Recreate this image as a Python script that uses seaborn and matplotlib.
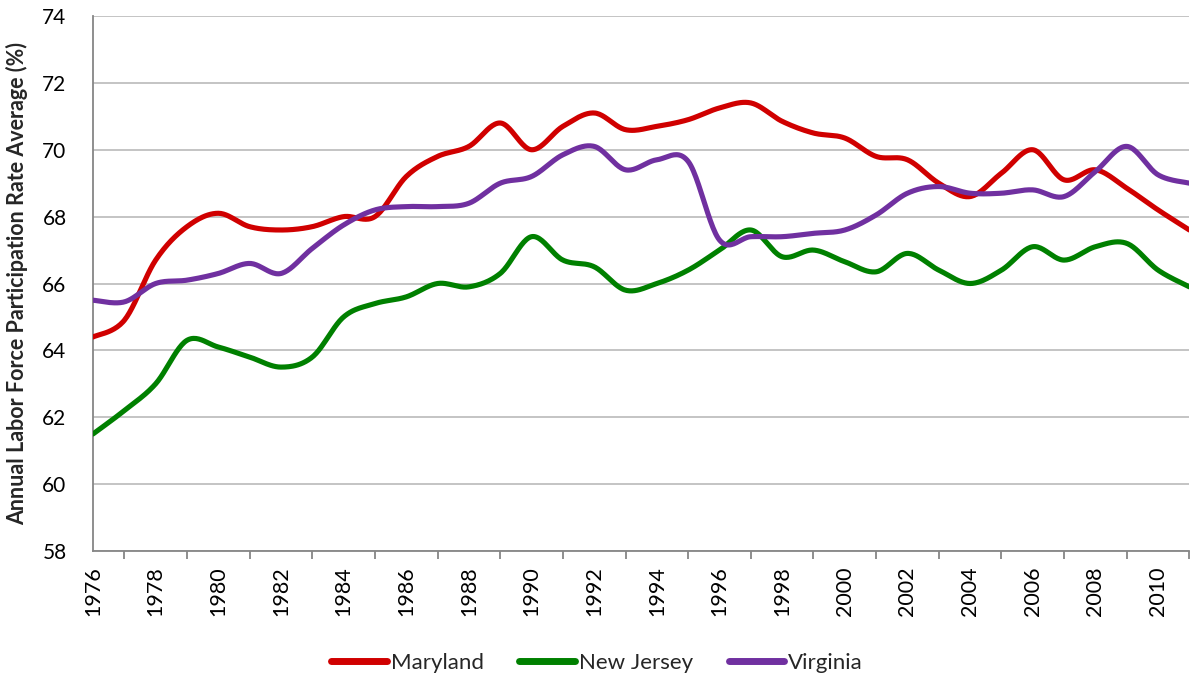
import numpy as np
import pandas as pd
import matplotlib
matplotlib.use("Agg")
import matplotlib.pyplot as plt
from matplotlib.ticker import MultipleLocator
import seaborn as sns

years = list(range(1976, 2012))

maryland = [64.4, 64.9, 66.7, 67.7, 68.1, 67.7, 67.6, 67.7, 68.0, 68.0,
            69.2, 69.8, 70.1, 70.8, 70.0, 70.7, 71.1, 70.6, 70.7, 70.9,
            71.25, 71.4, 70.85, 70.5, 70.35, 69.8, 69.7, 69.0, 68.6, 69.3,
            70.0, 69.1, 69.4, 68.85, 68.2, 67.6]
new_jersey = [61.5, 62.2, 63.0, 64.3, 64.1, 63.8, 63.5, 63.8, 65.0, 65.4,
              65.6, 66.0, 65.9, 66.3, 67.4, 66.7, 66.5, 65.8, 66.0, 66.4,
              67.0, 67.6, 66.8, 67.0, 66.65, 66.35, 66.9, 66.4, 66.0, 66.4,
              67.1, 66.7, 67.1, 67.2, 66.4, 65.9]
virginia = [65.5, 65.45, 66.0, 66.1, 66.3, 66.6, 66.3, 67.05, 67.75, 68.2,
            68.3, 68.3, 68.4, 69.0, 69.2, 69.85, 70.1, 69.4, 69.7, 69.65,
            67.3, 67.4, 67.4, 67.5, 67.6, 68.05, 68.7, 68.9, 68.7, 68.7,
            68.8, 68.6, 69.35, 70.1, 69.25, 69.0]

states = ["Maryland", "New Jersey", "Virginia"]
colors = {"Maryland": "#D00000", "New Jersey": "#008000", "Virginia": "#7030A0"}
series = {"Maryland": maryland, "New Jersey": new_jersey, "Virginia": virginia}


def smooth_path(x, y, steps=24):
    """Excel-style smoothed line: cubic Bezier segments with Catmull-Rom control points."""
    x = np.asarray(x, float)
    y = np.asarray(y, float)
    n = len(x)
    px, py = [], []
    t = np.linspace(0, 1, steps, endpoint=False)
    for i in range(n - 1):
        i0 = max(i - 1, 0)
        i3 = min(i + 2, n - 1)
        p0 = np.array([x[i], y[i]])
        p3 = np.array([x[i + 1], y[i + 1]])
        c1 = p0 + (p3 - np.array([x[i0], y[i0]])) / 6.0
        c2 = p3 - (np.array([x[i3], y[i3]]) - p0) / 6.0
        b = ((1 - t) ** 3)[:, None] * p0 + (3 * (1 - t) ** 2 * t)[:, None] * c1 \
            + (3 * (1 - t) * t ** 2)[:, None] * c2 + (t ** 3)[:, None] * p3
        px.extend(b[:, 0])
        py.extend(b[:, 1])
    px.append(x[-1])
    py.append(y[-1])
    return px, py


rows = []
for s in states:
    sx, sy = smooth_path(years, series[s])
    for i, (a, b) in enumerate(zip(sx, sy)):
        rows.append({"Year": a, "Rate": b, "State": s, "order": i})
df = pd.DataFrame(rows)

sns.set_theme(style="white")
plt.rcParams["font.family"] = ["Lato", "DejaVu Sans"]

fig = plt.figure(figsize=(11.9, 6.81), dpi=100)
ax = fig.add_axes([93 / 1190, 1 - 551 / 681, 1 - 93 / 1190 - 0.0005, (551 - 16) / 681])

sns.lineplot(data=df, x="Year", y="Rate", hue="State", hue_order=states,
             palette=colors, sort=False, estimator=None, linewidth=3.7,
             ax=ax, zorder=3)

ax.set_xlim(1976, 2011)
ax.set_ylim(58, 74)
ax.yaxis.set_major_locator(MultipleLocator(2))
ax.xaxis.set_minor_locator(MultipleLocator(1))
ax.set_xticks(list(range(1976, 2011, 2)))
ax.set_xticklabels([str(y) for y in range(1976, 2011, 2)], rotation=90)
ax.grid(axis="y", color="#BFBFBF", linewidth=1.3, zorder=0)
ax.grid(axis="x", visible=False)
ax.set_axisbelow(True)

for side in ["top", "right"]:
    ax.spines[side].set_visible(False)
for side in ["left", "bottom"]:
    ax.spines[side].set_color("#868686")
    ax.spines[side].set_linewidth(1.3)

ax.tick_params(axis="both", which="both", direction="out", color="#868686",
               width=1.3, labelcolor="black")
ax.tick_params(axis="y", length=8, pad=11, labelsize=15)
ax.tick_params(axis="x", which="both", length=6, pad=5, labelsize=15.5)
ax.tick_params(axis="x", which="minor", bottom=True)

ax.set_xlabel("")
ax.set_ylabel("Annual Labor Force Participation Rate Average (%)",
              fontsize=15.5, fontweight="bold")
ax.yaxis.set_label_coords(-0.0593, 0.5)

sns.move_legend(ax, "center", bbox_to_anchor=(597 / 1190, 1 - 663 / 681),
                bbox_transform=fig.transFigure, ncol=3, frameon=False,
                title=None, fontsize=16, handlelength=2.5, columnspacing=1.6,
                handletextpad=0.18)
for h in ax.get_legend().get_lines():
    h.set_linewidth(5)

fig.savefig("out.png", dpi=100)
